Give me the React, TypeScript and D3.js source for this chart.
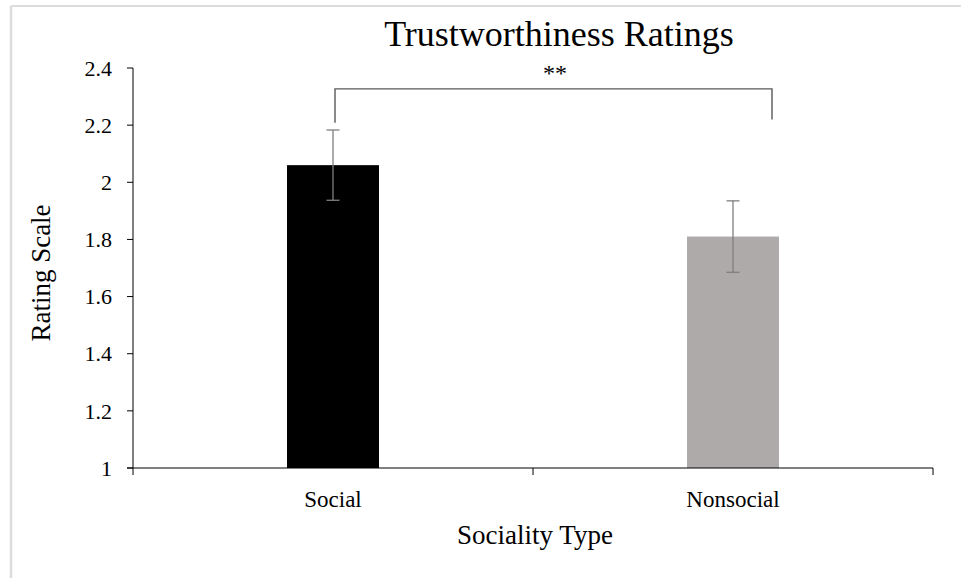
import React from "react";
import * as d3 from "d3";

const categories = ["Social", "Nonsocial"];
const means = [2.06, 1.81];
const errors = [0.123, 0.125];
const barColors = ["#000000", "#aeaaaa"];
const yTicks = [1, 1.2, 1.4, 1.6, 1.8, 2, 2.2, 2.4];
const sigLabel = "**";

const W = 961;
const H = 578;
const margin = { left: 133, right: 28, top: 68, bottom: 110 };
const FONT = "'Liberation Serif', 'Times New Roman', serif";

export default function App() {
  // narrow bars centred in each category band
  const x = d3
    .scaleBand<string>()
    .domain(categories)
    .range([margin.left, W - margin.right])
    .paddingInner(0.77)
    .paddingOuter(0.385);
  const bandOuter = d3
    .scaleBand<string>()
    .domain(categories)
    .range([margin.left, W - margin.right]);
  const y = d3.scaleLinear().domain([1, 2.4]).range([H - margin.bottom, margin.top]);
  const y0 = y(1);

  const cx = (c: string) => (x(c) as number) + x.bandwidth() / 2;
  const bracketY = y(2.327);
  const xLeft = cx(categories[0]) + 2;
  const xRight = (bandOuter(categories[1]) as number) + bandOuter.bandwidth() * 0.5975;

  return (
    <svg width={W} height={H} style={{ position: "absolute", left: 0, top: 0, background: "#fff" }}>
      {/* frame */}
      <line x1={11} x2={W} y1={6} y2={6} stroke="#dcdcdc" strokeWidth={2} />
      <line x1={11} x2={11} y1={6} y2={H} stroke="#dcdcdc" strokeWidth={2.5} />

      <text x={559} y={46} textAnchor="middle" fontFamily={FONT} fontSize={36} fill="#000">
        Trustworthiness  Ratings
      </text>

      {/* bars */}
      {categories.map((c, i) => (
        <rect
          key={c}
          x={x(c)}
          y={y(means[i])}
          width={x.bandwidth()}
          height={y0 - y(means[i])}
          fill={barColors[i]}
        />
      ))}

      {/* error bars */}
      {categories.map((c, i) => {
        const m = cx(c);
        const hi = y(means[i] + errors[i]);
        const lo = y(means[i] - errors[i]);
        return (
          <g key={c} stroke="#7f7f7f" strokeWidth={1.3}>
            <line x1={m} x2={m} y1={hi} y2={lo} />
            <line x1={m - 6.5} x2={m + 6.5} y1={hi} y2={hi} />
            <line x1={m - 6.5} x2={m + 6.5} y1={lo} y2={lo} />
          </g>
        );
      })}

      {/* significance bracket */}
      <path
        d={`M${xLeft},${y(2.18) - 8} V${bracketY} H${xRight} V${y(2.22)}`}
        fill="none"
        stroke="#595959"
        strokeWidth={1.4}
      />
      <text x={555} y={81} textAnchor="middle" fontFamily={FONT} fontSize={24} fill="#000">
        {sigLabel}
      </text>

      {/* y axis */}
      <line x1={margin.left} x2={margin.left} y1={y(2.4)} y2={y0} stroke="#000" strokeWidth={1} />
      {yTicks.map((t) => (
        <g key={t}>
          <line x1={margin.left - 6} x2={margin.left} y1={y(t)} y2={y(t)} stroke="#000" />
          <text
            x={margin.left - 21}
            y={y(t)}
            dy="0.35em"
            textAnchor="end"
            fontFamily={FONT}
            fontSize={22}
            fill="#000"
          >
            {d3.format("~g")(t)}
          </text>
        </g>
      ))}

      {/* x axis */}
      <line x1={margin.left - 6} x2={W - margin.right} y1={y0} y2={y0} stroke="#000" strokeWidth={1} />
      {[...categories.map((c) => bandOuter(c) as number), W - margin.right].map((t, i) => (
        <line key={i} x1={t} x2={t} y1={y0} y2={y0 + 7} stroke="#000" />
      ))}
      {categories.map((c) => (
        <text key={c} x={cx(c)} y={507} textAnchor="middle" fontFamily={FONT} fontSize={23} fill="#000">
          {c}
        </text>
      ))}

      <text x={535} y={544} textAnchor="middle" fontFamily={FONT} fontSize={27} fill="#000">
        Sociality Type
      </text>
      <text
        transform={`translate(50, ${273}) rotate(-90)`}
        textAnchor="middle"
        fontFamily={FONT}
        fontSize={27}
        fill="#000"
      >
        Rating Scale
      </text>
    </svg>
  );
}
